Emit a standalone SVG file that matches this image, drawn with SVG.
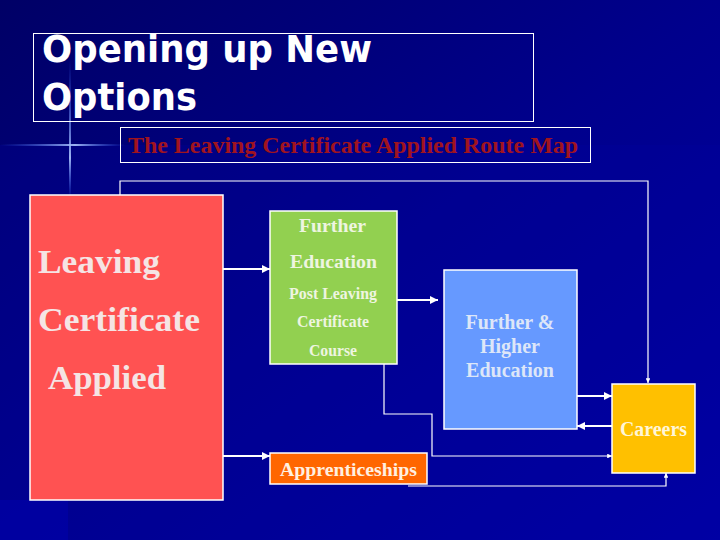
<svg xmlns="http://www.w3.org/2000/svg" width="720" height="540" viewBox="0 0 720 540">
<defs>
<linearGradient id="bg" x1="0" y1="0" x2="1" y2="1">
<stop offset="0" stop-color="#000066"/>
<stop offset="0.5" stop-color="#00008C"/>
<stop offset="1" stop-color="#0000A6"/>
</linearGradient>
<linearGradient id="glowH" x1="0" y1="0" x2="1" y2="0">
<stop offset="0" stop-color="#3366FF" stop-opacity="0"/>
<stop offset="0.6" stop-color="#AFC8FF" stop-opacity="0.9"/>
<stop offset="1" stop-color="#3366FF" stop-opacity="0"/>
</linearGradient>
<linearGradient id="glowV" x1="0" y1="0" x2="0" y2="1">
<stop offset="0" stop-color="#3366FF" stop-opacity="0"/>
<stop offset="0.7" stop-color="#AFC8FF" stop-opacity="0.9"/>
<stop offset="1" stop-color="#3366FF" stop-opacity="0"/>
</linearGradient>
<marker id="ah" viewBox="0 0 10 10" refX="10" refY="5" markerWidth="4" markerHeight="4" orient="auto" markerUnits="strokeWidth">
<path d="M0,0 L10,5 L0,10 Z" fill="#FFFFFF"/>
</marker>
<style>
.box{stroke:#FFFFFF;stroke-width:1.5}
.conn{fill:none;stroke:#FFFFFF;stroke-width:2}
.thin{fill:none;stroke:#FFFFFF;stroke-width:1.2}
.serif{font-family:"Liberation Serif","Times New Roman",serif;font-weight:bold}
</style>
</defs>
<rect width="720" height="540" fill="url(#bg)"/>
<rect x="0" y="145" width="720" height="395" fill="#0000A0" opacity="0.25"/>
<rect x="0" y="500" width="68" height="40" fill="#0000B0" opacity="0.5"/>
<rect x="0" y="144" width="125" height="2" fill="url(#glowH)"/>
<rect x="69" y="60" width="2" height="140" fill="url(#glowV)"/>

<g id="title">
<rect x="33.5" y="33.5" width="500" height="88" fill="none" stroke="#FFFFFF" stroke-width="1"/>
<text x="42" y="62" font-family="'DejaVu Sans','Liberation Sans',sans-serif" font-weight="bold" font-size="38" fill="#FFFFFF" textLength="330" lengthAdjust="spacingAndGlyphs">Opening up New</text>
<text x="42" y="110" font-family="'DejaVu Sans','Liberation Sans',sans-serif" font-weight="bold" font-size="38" fill="#FFFFFF" textLength="155" lengthAdjust="spacingAndGlyphs">Options</text>
</g>
<g id="subtitle">
<rect x="120.5" y="127.5" width="470" height="35" fill="none" stroke="#FFFFFF" stroke-width="1"/>
<text x="128" y="153" class="serif" font-size="23" fill="#A0141E" textLength="450" lengthAdjust="spacingAndGlyphs">The Leaving Certificate Applied Route Map</text>
</g>

<g id="connectors">
<polyline class="thin" points="120,210 120,181 648,181 648,383" marker-end="url(#ah)"/>
<line class="conn" x1="223" y1="269" x2="270" y2="269" marker-end="url(#ah)"/>
<line class="conn" x1="397" y1="300" x2="438" y2="300" marker-end="url(#ah)"/>
<line class="conn" x1="577" y1="396" x2="612" y2="396" marker-end="url(#ah)"/>
<line class="conn" x1="612" y1="426" x2="577" y2="426" marker-end="url(#ah)"/>
<polyline class="thin" points="384,364 384,414 432,414 432,456 612,456" marker-end="url(#ah)"/>
<line class="conn" x1="223" y1="456" x2="270" y2="456" marker-end="url(#ah)"/>
<polyline class="thin" points="408,486 666,486 666,473" marker-end="url(#ah)"/>
</g>

<g id="lca">
<rect class="box" x="30" y="195" width="193" height="305" fill="#FF5252"/>
<g class="serif" font-size="34" fill="#F5E4E4">
<text x="38" y="273" textLength="122" lengthAdjust="spacingAndGlyphs">Leaving</text>
<text x="38" y="331" textLength="162" lengthAdjust="spacingAndGlyphs">Certificate</text>
<text x="48" y="389" textLength="118" lengthAdjust="spacingAndGlyphs">Applied</text>
</g>
</g>

<g id="further-education">
<rect class="box" x="270" y="211" width="127" height="153" fill="#92D050"/>
<g class="serif" fill="#EEF5E0">
<text x="299" y="232" font-size="19" textLength="67" lengthAdjust="spacingAndGlyphs">Further</text>
<text x="290" y="268" font-size="19" textLength="87" lengthAdjust="spacingAndGlyphs">Education</text>
<text x="289" y="299" font-size="16" textLength="88" lengthAdjust="spacingAndGlyphs">Post Leaving</text>
<text x="297" y="327" font-size="16" textLength="72" lengthAdjust="spacingAndGlyphs">Certificate</text>
<text x="309" y="356" font-size="16" textLength="48" lengthAdjust="spacingAndGlyphs">Course</text>
</g>
</g>

<g id="higher-education">
<rect class="box" x="444" y="270" width="133" height="159" fill="#6699FF"/>
<g class="serif" fill="#DDE6F8" text-anchor="middle" font-size="20">
<text x="510" y="329">Further &amp;</text>
<text x="510" y="353">Higher</text>
<text x="510" y="377">Education</text>
</g>
</g>

<g id="careers">
<rect class="box" x="612" y="384" width="83" height="89" fill="#FFC000"/>
<text x="620" y="436" class="serif" font-size="20" fill="#FFF6D8" textLength="67" lengthAdjust="spacingAndGlyphs">Careers</text>
</g>

<g id="apprenticeships">
<rect class="box" x="270" y="453" width="157" height="31" fill="#FF6600"/>
<text x="280" y="476" class="serif" font-size="18" fill="#FFF0E0" textLength="137" lengthAdjust="spacingAndGlyphs">Apprenticeships</text>
</g>
</svg>
